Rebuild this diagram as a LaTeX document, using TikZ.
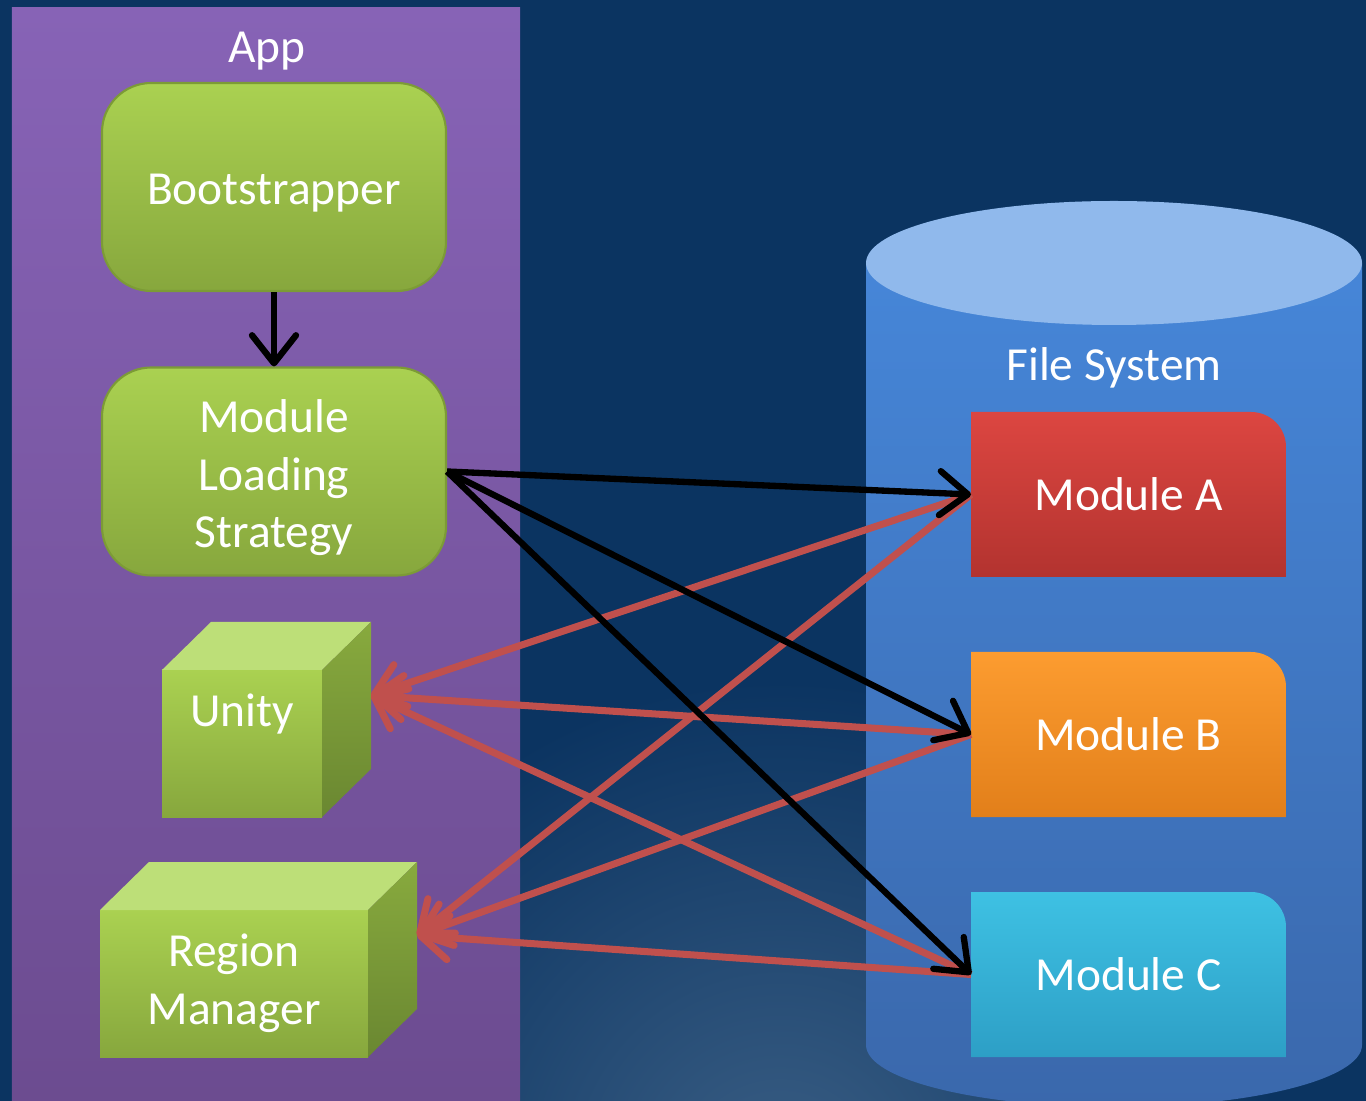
\documentclass[tikz,border=0pt]{standalone}
\usepackage{fontspec}
\setmainfont{Carlito}
\usetikzlibrary{arrows.meta, calc}

\definecolor{fons}{HTML}{0B3461}
\definecolor{brillo}{HTML}{3A5E84}
\definecolor{lilaA}{HTML}{8763B6}
\definecolor{lilaB}{HTML}{6B4B8F}
\definecolor{verdA}{HTML}{AAD151}
\definecolor{verdB}{HTML}{87A73D}
\definecolor{verdC}{HTML}{7C9B36}
\definecolor{verdClar}{HTML}{BDDF78}
\definecolor{verdFoscA}{HTML}{88AA3E}
\definecolor{verdFoscB}{HTML}{6A8731}
\definecolor{blauA}{HTML}{4686D8}
\definecolor{blauB}{HTML}{3A68AC}
\definecolor{blauClar}{HTML}{90B9EC}
\definecolor{vermA}{HTML}{DC4641}
\definecolor{vermB}{HTML}{B3332F}
\definecolor{tarA}{HTML}{FC9C30}
\definecolor{tarB}{HTML}{E27F1A}
\definecolor{cianA}{HTML}{3EC1E3}
\definecolor{cianB}{HTML}{2D9FC6}
\definecolor{fletxaR}{HTML}{C0504D}

\begin{document}
\begin{tikzpicture}[font=\fontsize{13.5}{16.4}\selectfont, text=white,
	caixa/.style={rounded corners=14pt, minimum width=3.44cm, minimum height=2.08cm,
		top color=verdA, bottom color=verdB, draw=verdC, line width=0.6pt, align=center},
	cub/.style={minimum height=1.47cm, outer sep=0, top color=verdA, bottom color=verdB, align=center},
	modul/.style 2 args={minimum width=3.15cm, minimum height=1.65cm, outer sep=0,
		path picture={\shade [top color=#1, bottom color=#2]
			(path picture bounding box.south west) -- (path picture bounding box.north west)
			-- ([xshift=-3.5mm]path picture bounding box.north east)
			arc [start angle=90, end angle=0, radius=3.5mm]
			-- (path picture bounding box.south east) -- cycle;}},
	fletxa/.style={line width=1.8pt, -{Straight Barb[length=2.8mm, width=4.4mm, round]}},
	fletxa roja/.style={fletxa, color=fletxaR, line width=2pt}]

\useasboundingbox (0,0) rectangle (13.66,-11.01);
\fill [fons] (0,0) rectangle (13.66,-11.01);
\shade [inner color=brillo, outer color=fons] (7.8,-11.8) circle (5);

% El panell de l'App
\shade [top color=lilaA, bottom color=lilaB] (0.12,-0.08) rectangle (5.20,-11.3);
\node (App) at (2.67, -0.51) {App};

% El disc, amb els moduls
\shade [top color=blauA, bottom color=blauB] (8.66,-2.63) -- (8.66,-10.45)
	arc [start angle=180, end angle=360, x radius=2.48, y radius=0.62] -- (13.62,-2.63) -- cycle;
\fill [blauClar] (11.14,-2.63) ellipse [x radius=2.48, y radius=0.62];
\node (FS) at (11.14, -3.68) {File System};
%%%%%%%%%%%%%%%%%%%%%%%%%%%%%%%%%%%%%%%%%%%%%%%%%%%%%%%%%%%%%%%%%%%%%%%%%%%%%%%%%%%%%%%%%%%%
\node [caixa]	(Boot)	at (2.74, -1.87)	{\raisebox{-0.6mm}[\height][\depth]{Bootstrapper}};
\node [caixa]	(MLS)	at (2.74, -4.715)
	{\raisebox{-0.7mm}[\height][\depth]{\begin{tabular}{@{}c@{}}Module\\Loading\\Strategy\end{tabular}}};
%%%%%%%%%%%%%%%%%%%%%%%%%%%%%%%%%%%%%%%%%%%%%%%%%%%%%%%%%%%%%%%%%%%%%%%%%%%%%%%%%%%%%%%%%%%%
\node [cub, minimum width=1.60cm, text depth=0.66cm]	(Unity)	at (2.42, -7.435)	{Unity};
\node [cub, minimum width=2.68cm]	(RM)	at (2.34, -9.835)	{Region\\Manager};
\foreach \c in {Unity, RM} {
	\fill [verdClar] (\c.north west) -- ++(0.49,0.48) -- ($(\c.north east)+(0.49,0.48)$) -- (\c.north east) -- cycle;
	\shade [top color=verdFoscA, bottom color=verdFoscB] (\c.north east) -- ++(0.49,0.48)
		-- ($(\c.south east)+(0.49,0.48)$) -- (\c.south east) -- cycle;
}
\coordinate (UnityR)	at ($(Unity.east)+(0.49,0.48)$);
\coordinate (RMR)	at ($(RM.east)+(0.49,0.48)$);
%%%%%%%%%%%%%%%%%%%%%%%%%%%%%%%%%%%%%%%%%%%%%%%%%%%%%%%%%%%%%%%%%%%%%%%%%%%%%%%%%%%%%%%%%%%%
\node [modul={vermA}{vermB}]	(MA)	at (11.285, -4.945)	{Module A};
\node [modul={tarA}{tarB}]	(MB)	at (11.285, -7.345)	{Module B};
\node [modul={cianA}{cianB}]	(MC)	at (11.285, -9.745)	{Module C};

%%%%%%%%%%%%%%%%%%%%%%%%%%%%%%%%%%%%%%%%%%%%%%%%%%%%%%%%%%%%%%%%%%%%%%%%%%%%%%%%%%%%%%%%%%%%
% Fletxes
%%%%%%%%%%%%%%%%%%%%%%%%%%%%%%%%%%%%%%%%%%%%%%%%%%%%%%%%%%%%%%%%%%%%%%%%%%%%%%%%%%%%%%%%%%%%
\path [fletxa roja]
	(MA.west)	edge (UnityR)
	(MA.west)	edge (RMR)
	(MB.west)	edge (UnityR)
	(MB.west)	edge (RMR)
	(MC.west)	edge (UnityR)
	(MC.west)	edge (RMR);
\path [fletxa]
	(Boot)		edge (MLS)
	(MLS.east)	edge (MA.west)
	(MLS.east)	edge (MB.west)
	(MLS.east)	edge (MC.west);

\end{tikzpicture}
\end{document}
